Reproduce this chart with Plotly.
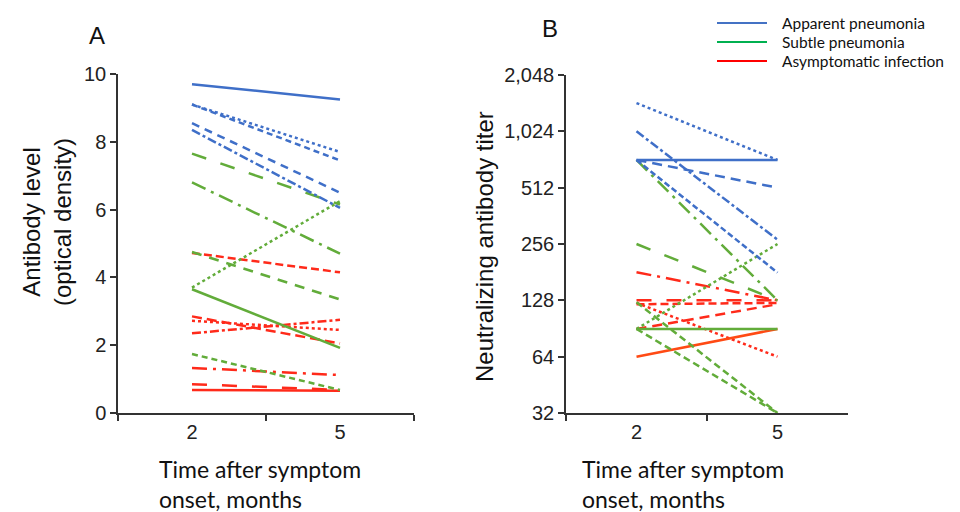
import plotly.graph_objects as go

W, H = 960, 512
OFF = 8  # page body margin compensation

# ---------------- data ----------------
times = ["2", "5"]

# Panel A: antibody level (optical density)
a_blue = [[9.7, 9.25], [9.1, 7.7], [9.1, 7.45], [8.55, 6.5], [8.35, 6.05]]
a_blue_dash = ["solid", "dot", "6px,4px", "8px,6px", "dashdot"]
a_green = [[7.65, 6.15], [6.8, 4.7], [3.7, 6.25], [3.65, 1.92], [4.75, 3.35], [1.74, 0.68]]
a_green_dash = ["longdash", "longdashdot", "dot", "solid", "10px,8px", "6px,4px"]
a_red = [[4.72, 4.15], [2.85, 2.05], [2.72, 2.45], [2.35, 2.75], [1.33, 1.12], [0.85, 0.68], [0.68, 0.66]]
a_red_dash = ["8px,4px", "10px,5px", "dot", "dashdot", "longdashdot", "longdash", "solid"]

# Panel B: neutralizing antibody titer
b_blue = [[1450, 720], [720, 720], [1024, 270], [720, 512], [720, 180]]
b_blue_dash = ["dot", "solid", "dashdot", "10px,6px", "6px,3px"]
b_green = [[720, 128], [256, 128], [90, 256], [90, 90], [90, 32], [125, 32]]
b_green_dash = ["longdashdot", "longdash", "dot", "solid", "7px,4px", "7px,4px"]
b_red = [[181, 128], [128, 128], [122, 124], [90, 122], [124, 64], [64, 90]]
b_red_dash = ["longdashdot", "longdash", "8px,4px", "10px,6px", "dot", "solid"]

b_ticks = [32, 64, 128, 256, 512, 1024, 2048]
b_ticktext = ["32", "64", "128", "256", "512", "1,024", "2,048"]

legend_names = ["Apparent pneumonia", "Subtle pneumonia", "Asymptomatic infection"]
legend_colors = ["#4472C4", "#00B050", "#FF0000"]

BLUE = "#3F6FC8"
GREEN = "#62AC3A"
RED = "#FF2A1A"

fig = go.Figure()

def add_group(vals, dashes, color, xa, ya):
    for v, d in zip(vals, dashes):
        c = color
        if d == "solid" and color == RED and xa == "x2":
            c = "#FF4A14"
        fig.add_trace(go.Scatter(x=times, y=v, mode="lines", xaxis=xa, yaxis=ya,
                                 line=dict(color=c, width=2.5, dash=d),
                                 showlegend=False, hoverinfo="skip"))

add_group(a_red, a_red_dash, RED, "x", "y")
add_group(a_green, a_green_dash, GREEN, "x", "y")
add_group(a_blue, a_blue_dash, BLUE, "x", "y")
add_group(b_red, b_red_dash, RED, "x2", "y2")
add_group(b_green, b_green_dash, GREEN, "x2", "y2")
add_group(b_blue, b_blue_dash, BLUE, "x2", "y2")

def px(x):
    return (x - OFF) / W

def py(y):
    return 1 - (y - OFF) / H

TICKFONT = dict(family="Liberation Sans, Arial", size=20, color="#222")
axis_common = dict(showline=True, linecolor="#333", linewidth=1.5, ticks="outside",
                   ticklen=6, tickwidth=1.5, tickcolor="#333", showgrid=False,
                   zeroline=False, tickfont=TICKFONT, automargin=False)

fig.update_layout(
    width=W, height=H,
    margin=dict(l=0, r=0, t=0, b=0, pad=0, autoexpand=False),
    paper_bgcolor="white", plot_bgcolor="white",
    xaxis=dict(axis_common, type="category", range=[-0.5, 1.5], tickson="boundaries",
               domain=[px(118), px(414)], anchor="y"),
    yaxis=dict(axis_common, range=[0, 10], dtick=2, domain=[py(413), py(74)], anchor="x"),
    xaxis2=dict(axis_common, type="category", range=[-0.5, 1.5], tickson="boundaries",
                domain=[px(566), px(848)], anchor="y2"),
    yaxis2=dict(axis_common, type="log", range=[1.50515, 3.31133], tickvals=b_ticks,
                ticktext=b_ticktext, domain=[py(413), py(75)], anchor="x2"),
)

TITLEFONT = dict(family="Liberation Sans, Arial", size=24, color="#111")
XTFONT = dict(family="Lato, Open Sans", size=23, color="#111")

ann = [
    dict(text="A", x=px(97), y=py(35), font=dict(family="Liberation Sans, Arial", size=24, color="#111")),
    dict(text="B", x=px(550), y=py(28), font=dict(family="Liberation Sans, Arial", size=24, color="#111")),
    dict(text="Antibody level<br>(optical density)", x=px(47), y=py(222), textangle=-90,
         font=TITLEFONT),
    dict(text="Neutralizing antibody titer", x=px(484), y=py(247), textangle=-90, font=TITLEFONT),
    dict(text="Time after symptom<br>onset, months", x=px(157), y=py(484), xanchor="left",
         align="left", font=XTFONT),
    dict(text="Time after symptom<br>onset, months", x=px(580), y=py(484), xanchor="left",
         align="left", font=XTFONT),
]
for a in ann:
    a.setdefault("xanchor", "center")
    fig.add_annotation(xref="paper", yref="paper", yanchor="middle", showarrow=False, **a)

leg_y = [23, 42, 61]
for name, col, yy in zip(legend_names, legend_colors, leg_y):
    fig.add_shape(type="line", xref="paper", yref="paper", x0=px(717), x1=px(767),
                  y0=py(yy), y1=py(yy), line=dict(color=col, width=2))
    fig.add_annotation(xref="paper", yref="paper", x=px(780), y=py(yy), xanchor="left",
                       yanchor="middle", showarrow=False, text=name,
                       font=dict(family="Lato, Open Sans", size=15.5, color="#111"))

fig.write_html("out.html")
